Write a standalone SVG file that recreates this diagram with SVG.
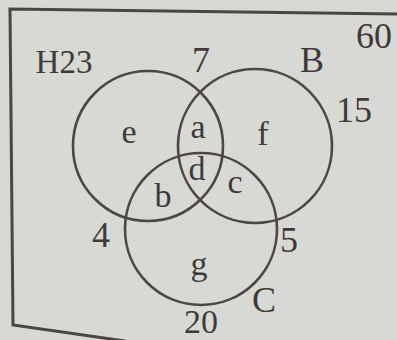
<svg xmlns="http://www.w3.org/2000/svg" width="397" height="340" viewBox="0 0 397 340">
<style>
.bg{fill:#d8d8d5}
.frame{fill:none;stroke:#4a4646;stroke-width:3}
.set{fill:none;stroke:#4d4646;stroke-width:2.6}
text{font-family:"Liberation Serif","Times New Roman",serif;fill:#3f3a3a;text-anchor:middle}
.big{font-size:36px}
.name{font-size:33px}
.reg{font-size:34px}
</style>
<rect class="bg" x="0" y="0" width="397" height="340"/>
<g id="universe">
<polyline class="frame" points="397,14 10,9 13,325 125,341"/>
<text class="big" x="374" y="48">60</text>
</g>
<g id="setA">
<circle class="set" cx="148" cy="146" r="75"/>
<text class="name" x="64" y="73">H23</text>
</g>
<g id="setB">
<circle class="set" cx="255" cy="146" r="77"/>
<text class="big" x="312" y="72">B</text>
</g>
<g id="setC">
<circle class="set" cx="201" cy="229" r="76"/>
<text class="big" x="264" y="312">C</text>
</g>
<g id="labels">
<text class="big" x="201" y="72">7</text>
<text class="big" x="354" y="122">15</text>
<text class="big" x="101" y="247">4</text>
<text class="big" x="289" y="252">5</text>
<text class="big" x="201" y="333" style="font-size:34px">20</text>
<text class="reg" x="129" y="143">e</text>
<text class="reg" x="198" y="138">a</text>
<text class="reg" x="263" y="145">f</text>
<text class="reg" x="197" y="180">d</text>
<text class="reg" x="235" y="193">c</text>
<text class="reg" x="163" y="207">b</text>
<text class="reg" x="199" y="275">g</text>
</g>
<g id="connectors"></g>
</svg>
